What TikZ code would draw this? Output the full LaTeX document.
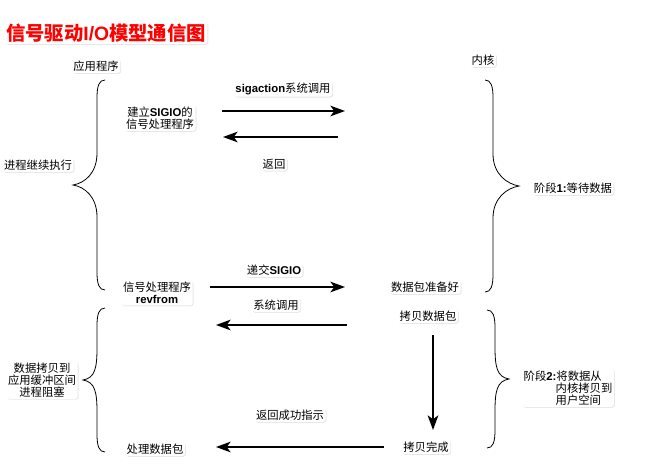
\documentclass[tikz,border=0pt]{standalone}
\usepackage{fontspec}
\newfontfamily\cjk{Noto Sans CJK SC}
\newfontfamily\latin{Liberation Sans}
\newcommand{\latb}[1]{{\latin\bfseries #1}}
\usetikzlibrary{arrows.meta,shadows}

% curly brace, tip to the left; #1 half height, #2 depth of the tip
\tikzset{
  pics/curly/.style 2 args={code={
    \draw[line width=0.6pt] (0,-#1) .. controls (-6,-#1) and (-8,-#1+6) .. (-8,-#1+18)
      -- (-8,-32) .. controls (-8,-12) and (-#2+12,-2) .. (-#2,0)
      .. controls (-#2+12,2) and (-8,12) .. (-8,32)
      -- (-8,#1-18) .. controls (-8,#1-6) and (-6,#1) .. (0,#1);
  }}
}

\begin{document}
\begin{tikzpicture}[
  x=0.75pt, y=-0.75pt,
  every node/.style={font=\cjk\fontsize{8.5}{9}\selectfont},
  lbl/.style={fill=white, rounded corners=2pt, inner sep=1.2pt, align=center,
    drop shadow={shadow xshift=0.7pt, shadow yshift=-0.7pt, opacity=0.18}},
  arr/.style={-{Stealth[length=11pt,width=8pt,inset=3pt]}, line width=1.3pt}
]
\useasboundingbox (0,0) rectangle (646,467);

\node[lbl, text=red, font=\cjk\bfseries\fontsize{14.5}{16}\selectfont] (title) at (106,33) {信号驱动\latb{I/O}模型通信图};
\node[lbl] (app) at (96,66) {应用程序};
\node[lbl] (kernel) at (483,60) {内核};

% phase 1
\node[lbl] (cont) at (38,165) {进程继续执行};
\node[lbl] (setup) at (160,118) {建立\latb{SIGIO}的\\信号处理程序};
\node[lbl] (sigact) at (283,89) {\latb{sigaction}系统调用};
\node[lbl] (ret) at (274,164) {返回};
\node[lbl] (stage1) at (573,188) {阶段\latb{1:}等待数据};
\coordinate (u1) at (222,111);
\coordinate (k1) at (345,111);
\coordinate (k2) at (338,137);
\coordinate (u2) at (223,137);
\draw[arr] (u1) -- (k1);
\draw[arr] (k2) -- (u2);

% phase 2
\node[lbl] (handler) at (157,293) {信号处理程序\\\latb{revfrom}};
\node[lbl] (deliver) at (274,270) {递交\latb{SIGIO}};
\node[lbl] (syscall) at (276,305) {系统调用};
\node[lbl] (ready) at (425,287) {数据包准备好};
\node[lbl] (copy) at (428,316) {拷贝数据包};
\node[lbl] (done) at (426,447) {拷贝完成};
\node[lbl] (retok) at (290,415) {返回成功指示};
\node[lbl] (proc) at (155,449) {处理数据包};
\node[lbl] (block) at (42,380) {数据拷贝到\\应用缓冲区间\\进程阻塞};
\node[lbl, align=left] (stage2) at (568,388) {阶段\latb{2:}将数据从\\\hspace*{24pt}内核拷贝到\\\hspace*{24pt}用户空间};
\coordinate (u3) at (210,287);
\coordinate (k3) at (345,287);
\coordinate (k4) at (347,325);
\coordinate (u4) at (216,325);
\coordinate (k5) at (384,447);
\coordinate (u5) at (216,447);
\coordinate (c1) at (433,335);
\coordinate (c2) at (433,430);
\draw[arr] (u3) -- (k3);
\draw[arr] (k4) -- (u4);
\draw[arr] (c1) -- (c2);
\draw[arr] (k5) -- (u5);

% braces
\pic at (105,185) {curly={105}{32}};
\pic at (105,380) {curly={72}{22}};
\pic[xscale=-1] at (485,186) {curly={106}{34}};
\pic[xscale=-1] at (487,379) {curly={69}{22}};
\end{tikzpicture}
\end{document}
